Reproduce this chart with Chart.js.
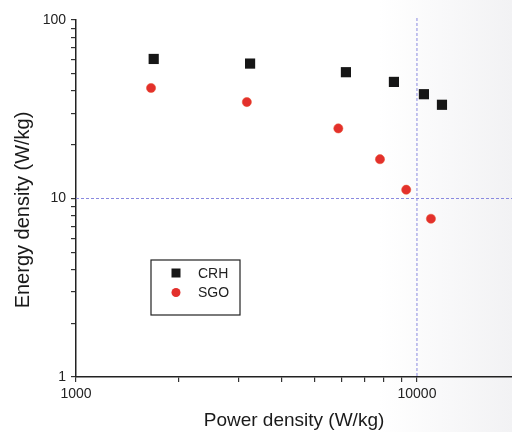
<!DOCTYPE html>
<html>
<head>
<meta charset="utf-8">
<script src="https://cdn.jsdelivr.net/npm/chart.js@4/dist/chart.umd.min.js"></script>
<style>
  html, body { margin: 0; padding: 0; background: #fff; }
  body { width: 512px; height: 432px; overflow: hidden;
         background: linear-gradient(to right, #ffffff 0%, #ffffff 74%, #f2f2f4 100%); }
  #wrap { position: relative; width: 512px; height: 432px; }
</style>
</head>
<body>
<div id="wrap"><canvas id="chart" width="512" height="432"></canvas></div>
<script>
// values (W/kg)
const crhPower = [1690, 3240, 6190, 8560, 10480, 11840];
const crhEnergy = [60.5, 57, 51, 45, 38.4, 33.5];
const sgoPower = [1660, 3170, 5880, 7790, 9300, 10990];
const sgoEnergy = [41.6, 34.7, 24.7, 16.6, 11.2, 7.7];

const xTicks = [1000, 2000, 3000, 4000, 5000, 6000, 7000, 8000, 9000, 10000];
const xLabels = [1000, 10000];
const yTicks = [1, 2, 3, 4, 5, 6, 7, 8, 9, 10, 20, 30, 40, 50, 60, 70, 80, 90, 100];
const yLabels = [1, 10, 100];
const refX = 10000;
const refY = 10;
const yTitle = 'Energy density (W/kg)';

const FONT = "'Liberation Sans', Arial, sans-serif";

const toPoints = (xs, ys) => xs.map((x, i) => ({ x, y: ys[i] }));

// dashed reference lines at 10000 W/kg and 10 Wh/kg
const refLines = {
  id: 'refLines',
  beforeDatasetsDraw(chart) {
    const { ctx, chartArea: a, scales: { x, y } } = chart;
    const px = x.getPixelForValue(refX), py = y.getPixelForValue(refY);
    ctx.save();
    ctx.strokeStyle = '#8a8ae0';
    ctx.lineWidth = 1;
    ctx.setLineDash([3, 2]);
    ctx.beginPath();
    ctx.moveTo(px, a.top - 2); ctx.lineTo(px, a.bottom);
    ctx.moveTo(a.left, py); ctx.lineTo(a.right, py);
    ctx.stroke();
    ctx.restore();
  }
};

// boxed legend inside the plot + y title (sits a bit below the axis centre)
const boxLegend = {
  id: 'boxLegend',
  afterDraw(chart) {
    const { ctx } = chart;
    ctx.save();
    ctx.strokeStyle = '#222';
    ctx.lineWidth = 1.2;
    ctx.strokeRect(151, 260, 89, 55);
    ctx.font = '14px ' + FONT;
    ctx.textBaseline = 'middle';
    chart.data.datasets.forEach((ds, i) => {
      const cx = 176, cy = 273 + i * 19.5;
      ctx.fillStyle = ds.backgroundColor;
      if (ds.pointStyle === 'rect') ctx.fillRect(cx - 4.5, cy - 4.5, 9, 9);
      else { ctx.beginPath(); ctx.arc(cx, cy, 4.5, 0, Math.PI * 2); ctx.fill(); }
      ctx.fillStyle = '#222';
      ctx.fillText(ds.label, 198, cy + 1);
    });
    ctx.translate(23, 210);
    ctx.rotate(-Math.PI / 2);
    ctx.font = '20px ' + FONT;
    ctx.fillStyle = '#1a1a1a';
    ctx.textAlign = 'center';
    ctx.fillText(yTitle, 0, 0);
    ctx.restore();
  }
};

new Chart(document.getElementById('chart'), {
  type: 'scatter',
  data: {
    datasets: [
      { label: 'CRH', data: toPoints(crhPower, crhEnergy), pointStyle: 'rect', pointRadius: 7.2,
        backgroundColor: '#161616', borderColor: '#161616', borderWidth: 0 },
      { label: 'SGO', data: toPoints(sgoPower, sgoEnergy), pointStyle: 'circle', pointRadius: 4.6,
        backgroundColor: '#e3302c', borderColor: '#e8502c', borderWidth: 0.5 }
    ]
  },
  options: {
    responsive: false,
    devicePixelRatio: 1,
    animation: false,
    layout: { autoPadding: false, padding: { top: 20, left: 0, right: 0, bottom: 0 } },
    plugins: { legend: { display: false }, tooltip: { enabled: false } },
    scales: {
      x: {
        type: 'logarithmic', position: 'bottom', min: 1000, max: 19000,
        afterBuildTicks: (s) => { s.ticks = xTicks.map((v) => ({ value: v })); },
        afterFit: (s) => { s.height = 55; s.paddingLeft = 0; s.paddingRight = 0; },
        ticks: { autoSkip: false, maxRotation: 0, padding: 4, color: '#222',
                 font: { family: FONT, size: 14 },
                 callback: (v) => (xLabels.includes(v) ? String(v) : '') },
        grid: { drawOnChartArea: false, drawTicks: true, tickLength: 5, color: '#333', lineWidth: 1.2 },
        border: { display: true, color: '#222', width: 1.5 },
        title: { display: true, text: 'Power density (W/kg)', color: '#1a1a1a',
                 font: { family: FONT, size: 19 }, padding: { top: 0, bottom: 0 } }
      },
      y: {
        type: 'logarithmic', min: 1, max: 100,
        afterBuildTicks: (s) => { s.ticks = yTicks.map((v) => ({ value: v })); },
        afterFit: (s) => { s.width = 76; },
        ticks: { autoSkip: false, padding: 5, color: '#222',
                 font: { family: FONT, size: 14 },
                 callback: (v) => (yLabels.includes(v) ? String(v) : '') },
        grid: { drawOnChartArea: false, drawTicks: true, tickLength: 5, color: '#333', lineWidth: 1.2 },
        border: { display: true, color: '#222', width: 1.5 },
        title: { display: false }
      }
    }
  },
  plugins: [refLines, boxLegend]
});
</script>
</body>
</html>
